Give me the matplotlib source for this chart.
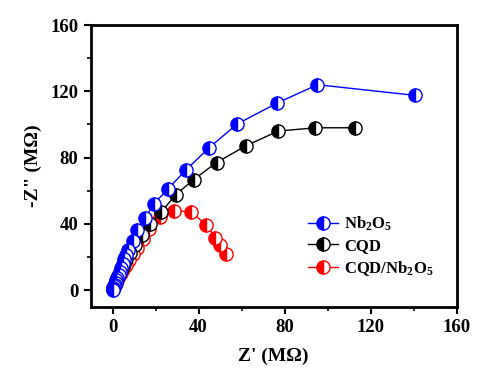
import matplotlib
matplotlib.use('Agg')
import matplotlib.pyplot as plt
from matplotlib.ticker import MultipleLocator

plt.rcParams['font.family'] = ['Liberation Serif', 'DejaVu Serif']
plt.rcParams['font.weight'] = 'bold'
plt.rcParams['mathtext.fontset'] = 'custom'
plt.rcParams['mathtext.rm'] = 'Liberation Serif:bold'
plt.rcParams['mathtext.it'] = 'Liberation Serif:bold'
plt.rcParams['mathtext.bf'] = 'Liberation Serif:bold'

# Nb2O5
nb_x = [140.5, 95.3, 76.7, 58.0, 45.0, 34.3, 25.7, 19.2, 15.2, 11.5, 9.5, 7.1,
        6.2, 5.4, 4.7, 4.0, 3.4, 2.8, 2.3, 1.8, 1.4, 1.0, 0.7, 0.45, 0.25, 0.1]
nb_y = [117.6, 124.0, 113.0, 100.3, 86.0, 72.7, 61.0, 52.0, 43.5, 36.4, 29.7, 24.2,
        21.0, 18.5, 16.0, 13.5, 11.2, 9.2, 7.4, 5.8, 4.4, 3.2, 2.2, 1.4, 0.8, 0.3]

# CQD
cqd_x = [112.6, 94.4, 77.0, 61.9, 48.4, 37.7, 29.5, 22.5, 17.5, 13.5, 10.5, 8.2,
         6.5, 5.2, 4.2, 3.3, 2.6, 2.0, 1.5, 1.1, 0.7, 0.4, 0.2]
cqd_y = [98.0, 98.0, 96.0, 87.0, 77.0, 66.7, 57.6, 47.0, 40.0, 33.0, 27.0, 22.5,
         18.5, 15.5, 12.8, 10.5, 8.5, 6.7, 5.1, 3.7, 2.5, 1.4, 0.6]

# CQD/Nb2O5
cn_x = [52.6, 50.2, 47.9, 43.7, 36.3, 28.8, 22.2, 17.2, 14.0, 11.6, 9.6, 7.9,
        6.4, 5.1, 4.0, 3.1, 2.3, 1.6, 1.0, 0.6, 0.3, 0.1]
cn_y = [21.8, 27.3, 31.5, 39.4, 47.3, 48.0, 44.4, 37.0, 31.0, 25.5, 21.5, 18.2,
        15.2, 12.6, 10.2, 8.2, 6.3, 4.7, 3.3, 2.1, 1.1, 0.4]

fig = plt.figure(figsize=(5.0, 3.69), dpi=100)
ax = fig.add_axes([0.182, 0.169, 0.731, 0.763])

mk = dict(marker='o', markersize=9.5, fillstyle='left', markerfacecoloralt='white',
          linewidth=1, markeredgewidth=1)
l3, = ax.plot(cn_x, cn_y, color='red', markerfacecolor='red', markeredgecolor='red',
              label='CQD/Nb$_2$O$_5$', zorder=3, **mk)
l2, = ax.plot(cqd_x, cqd_y, color='black', markerfacecolor='black', markeredgecolor='black',
              label='CQD', zorder=4, **mk)
l1, = ax.plot(nb_x, nb_y, color='blue', markerfacecolor='blue', markeredgecolor='blue',
              label='Nb$_2$O$_5$', zorder=5, **mk)

ax.set_xlim(-10, 160)
ax.set_ylim(-10, 160)
ax.xaxis.set_major_locator(MultipleLocator(40))
ax.yaxis.set_major_locator(MultipleLocator(40))
ax.xaxis.set_minor_locator(MultipleLocator(20))
ax.yaxis.set_minor_locator(MultipleLocator(20))
ax.tick_params(which='major', direction='out', length=5, width=1.5, labelsize=13.5, pad=4)
ax.tick_params(which='minor', direction='out', length=3, width=1.2)
for s in ax.spines.values():
    s.set_linewidth(2)

ax.set_xlabel("Z' (M\u03a9)", fontsize=14, fontweight='bold', labelpad=8)
ax.set_ylabel('-Z" (M\u03a9)', fontsize=14, fontweight='bold', labelpad=6)

ax.legend(handles=[l1, l2, l3], loc='upper left', bbox_to_anchor=(0.575, 0.35),
          frameon=False, fontsize=12, handlelength=1.8, handletextpad=0.4,
          labelspacing=0.3, borderaxespad=0)

fig.savefig('out.png', dpi=100)
